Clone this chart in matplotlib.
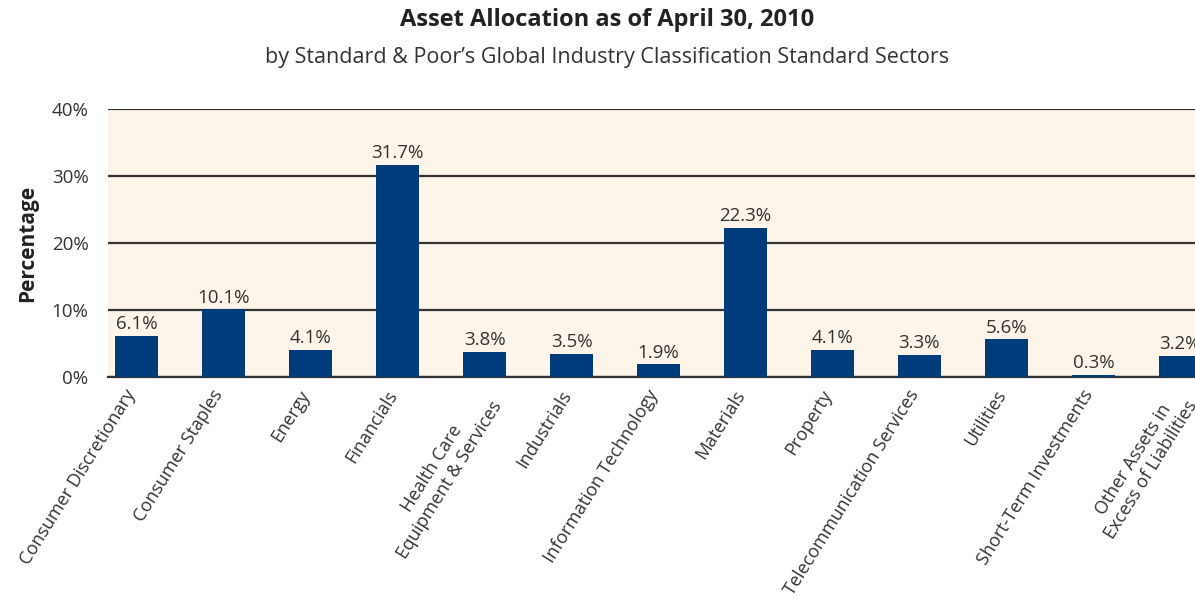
import matplotlib.pyplot as plt
from matplotlib.transforms import ScaledTranslation

plt.rcParams['font.family'] = ['Open Sans', 'DejaVu Sans']

sectors = [
    "Consumer Discretionary", "Consumer Staples", "Energy", "Financials",
    "Health Care\nEquipment & Services", "Industrials", "Information Technology",
    "Materials", "Property", "Telecommunication Services", "Utilities",
    "Short-Term Investments", "Other Assets in\nExcess of Liabilities",
]
weights = [6.1, 10.1, 4.1, 31.7, 3.8, 3.5, 1.9, 22.3, 4.1, 3.3, 5.6, 0.3, 3.2]
yticks = [0, 10, 20, 30, 40]

W, H = 1195, 598
fig = plt.figure(figsize=(W / 100, H / 100), dpi=100)
# axes run past the right edge of the figure, as in the original
ax = fig.add_axes([108 / W, 1 - 377 / H, (1209 - 108) / W, (377 - 109) / H])
ax.set_facecolor("#fdf5e9")

x = list(range(len(sectors)))
ax.bar(x, weights, width=0.5, color="#003b7b", zorder=3)
for xi, v in zip(x, weights):
    ax.text(xi, v + 0.4, f"{v}%", ha="center", va="bottom", fontsize=13.5, color="#333333", zorder=4)

ax.set_xlim(-0.33, len(sectors) - 1 + 0.33)
ax.set_ylim(0, 40)
ax.set_yticks(yticks)
ax.set_yticklabels([f"{t}%" for t in yticks], fontsize=13.5, color="#333333")
ax.yaxis.grid(True, color="#333333", linewidth=1.6, zorder=1)
ax.set_axisbelow(True)
ax.tick_params(axis="y", length=0, pad=14)
ax.tick_params(axis="x", length=0, pad=7)
ax.set_xticks(x)
ax.set_xticklabels(sectors, rotation=58, ha="right", rotation_mode="anchor",
                   fontsize=13, color="#333333", multialignment="center")
shift = ScaledTranslation(-12 / 100, 0, fig.dpi_scale_trans)
for lbl in ax.get_xticklabels():
    lbl.set_transform(lbl.get_transform() + shift)
for s in ["top", "right", "left"]:
    ax.spines[s].set_visible(False)
ax.spines["bottom"].set_color("#333333")
ax.spines["bottom"].set_linewidth(1.6)

ax.set_ylabel("Percentage", fontsize=15, fontweight="bold", color="#222222", labelpad=10)

fig.text(607 / W, 1 - 20 / H, "Asset Allocation as of April 30, 2010", ha="center", va="center",
         fontsize=17, fontweight="bold", color="#222222")
fig.text(607 / W, 1 - 58 / H, "by Standard & Poor\u2019s Global Industry Classification Standard Sectors",
         ha="center", va="center", fontsize=15.5, color="#333333")

fig.savefig("out.png", dpi=100)
